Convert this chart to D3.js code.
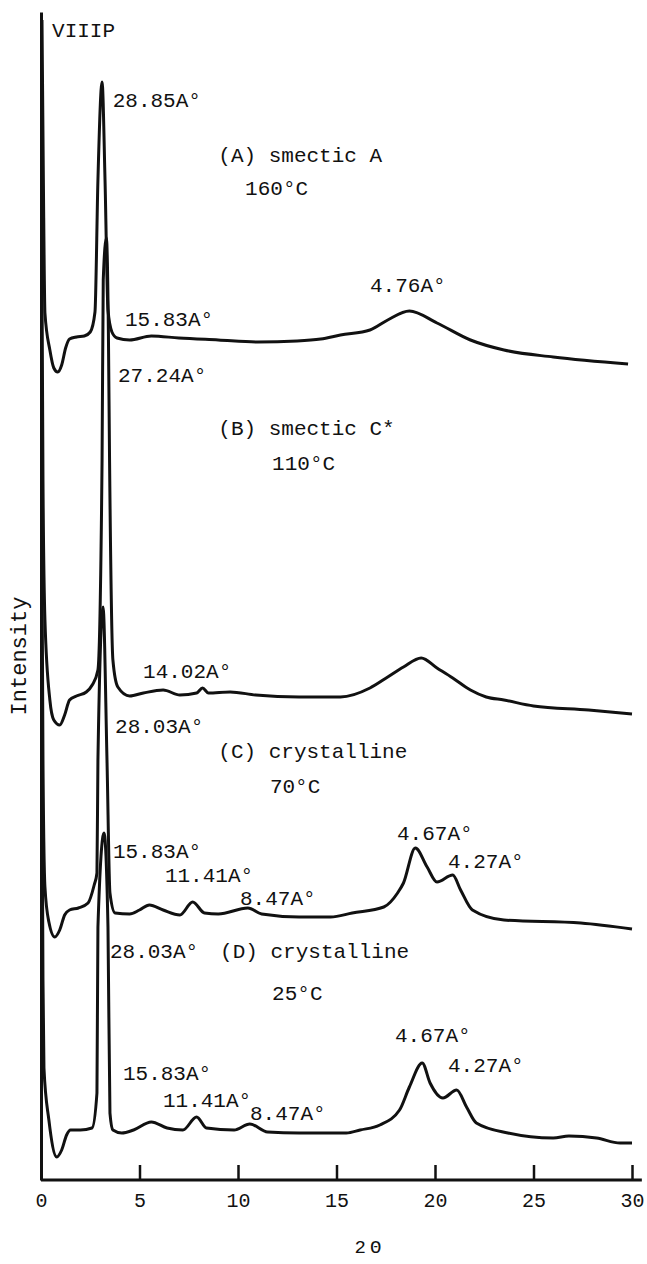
<!DOCTYPE html>
<html>
<head>
<meta charset="utf-8">
<script src="https://cdn.jsdelivr.net/npm/d3@7"></script>
<style>
  body { margin: 0; background: #fff; }
  text { font-family: "Liberation Mono", "DejaVu Sans Mono", monospace; fill: #111; }
</style>
</head>
<body>
<div id="xrd_plot"></div>
<script>
// X-ray diffraction patterns of VIIIP, stacked (intensity includes each trace's offset)

// 2theta / intensity (a.u.) pairs
const smecticA = [
    [0.05, 1160], [0.12, 1000], [0.2, 867], [0.45, 830], [0.65, 812], [0.85, 808],
    [1.05, 815], [1.25, 832], [1.45, 841], [1.8, 843], [2.2, 844], [2.5, 848],
    [2.74, 868], [2.89, 1000], [3.1, 1098], [3.25, 1000], [3.4, 870], [3.6, 848],
    [3.86, 842], [4.5, 840], [5.6, 844], [7, 842], [9, 840], [11, 838], [13, 839],
    [14.2, 841], [15.2, 845], [16.7, 850], [17.6, 860], [18.7, 869], [20.1, 857],
    [21.8, 840], [23.5, 830], [26, 823], [29.8, 816]
];
const smecticC = [
    [0.05, 900], [0.1, 700], [0.2, 560], [0.45, 480], [0.65, 460], [0.95, 455],
    [1.2, 465], [1.45, 480], [1.8, 484], [2.3, 488], [2.6, 495], [2.89, 510],
    [3.1, 720], [3.16, 900], [3.32, 942], [3.42, 850], [3.48, 720], [3.65, 520],
    [3.9, 493], [4.5, 484], [5.2, 487], [6.2, 490], [7.05, 485], [7.9, 487],
    [8.2, 492], [8.5, 487], [9.6, 488], [10.9, 485], [13.1, 483], [15.2, 483],
    [16.7, 492], [17.6, 503], [18.4, 513], [19.3, 522], [20.1, 512], [20.9, 502],
    [21.8, 490], [22.6, 483], [23.5, 480], [25, 474], [27.8, 470], [30, 466]
];
const crystal70 = [
    [0.05, 620], [0.1, 420], [0.2, 293], [0.4, 258], [0.7, 243], [0.95, 250],
    [1.2, 265], [1.45, 270], [1.9, 272], [2.39, 277], [2.7, 295], [2.84, 307],
    [2.89, 420], [3.15, 573], [3.35, 420], [3.5, 287], [3.76, 267], [4.5, 266],
    [5.0, 270], [5.5, 275], [6.2, 270], [7.05, 265], [7.7, 278], [8.3, 267],
    [9.0, 266], [10.5, 272], [11.2, 266], [13.1, 263], [14.7, 263], [15.8, 267],
    [17.4, 273], [18.1, 287], [18.4, 297], [19.0, 332], [19.6, 313], [20.1, 298],
    [20.9, 305], [21.3, 290], [21.9, 270], [23.5, 260], [27.4, 257], [30, 251]
];
const crystal25 = [
    [0.05, 420], [0.1, 200], [0.15, 112], [0.4, 60], [0.8, 23], [1.05, 30],
    [1.3, 45], [1.5, 50], [2.0, 50], [2.59, 52], [2.84, 87], [2.89, 253],
    [3.2, 347], [3.4, 253], [3.5, 67], [3.65, 50], [4.1, 47], [4.7, 50],
    [5.6, 58], [6.4, 52], [7.2, 50], [7.9, 63], [8.4, 52], [9.8, 50],
    [10.6, 56], [11.5, 48], [13.1, 47], [15.5, 47], [16.2, 50], [17.2, 55],
    [18.2, 70], [18.7, 93], [19.35, 117], [19.75, 97], [20.4, 82], [21.1, 90],
    [21.6, 73], [22.1, 57], [23.7, 47], [26, 42], [26.8, 44], [28.2, 42],
    [29.4, 37], [30, 37]
];
const series = [smecticA, smecticC, crystal70, crystal25];

const xTicks = [0, 5, 10, 15, 20, 25, 30];

// annotations: [2theta, intensity, text]
const annotations = [
    [0.56, 1143, "VIIIP"],
    [3.64, 1073, "28.85A°"],
    [9.0, 1018, "(A) smectic A"],
    [10.36, 985, "160°C"],
    [4.26, 854, "15.83A°"],
    [16.7, 888, "4.76A°"],
    [3.91, 798, "27.24A°"],
    [9.0, 745, "(B) smectic C*"],
    [11.73, 710, "110°C"],
    [5.18, 502, "14.02A°"],
    [3.76, 447, "28.03A°"],
    [9.0, 422, "(C) crystalline"],
    [11.62, 387, "70°C"],
    [18.07, 340, "4.67A°"],
    [20.66, 312, "4.27A°"],
    [3.65, 322, "15.83A°"],
    [6.29, 298, "11.41A°"],
    [10.1, 275, "8.47A°"],
    [3.5, 222, "28.03A°"],
    [9.09, 222, "(D) crystalline"],
    [11.73, 180, "25°C"],
    [4.16, 100, "15.83A°"],
    [6.19, 73, "11.41A°"],
    [10.61, 60, "8.47A°"],
    [17.97, 138, "4.67A°"],
    [20.66, 108, "4.27A°"]
];

const canvWidth = 647, canvHeight = 1264;

const svg = d3.select('#xrd_plot')
    .append('svg')
    .attr('width', canvWidth)
    .attr('height', canvHeight);

const xScale = d3.scaleLinear().domain([0, 30]).range([41, 632]);
const yScale = d3.scaleLinear().domain([0, 1168]).range([1180, 12]);

// x axis, ticks pointing up into the plot
const xAxis = svg.append('g')
    .attr('transform', `translate(0, ${yScale(0)})`)
    .call(d3.axisBottom(xScale)
        .tickValues(xTicks)
        .tickFormat(d3.format('d'))
        .tickSizeInner(-15)
        .tickSizeOuter(0)
        .tickPadding(13));
xAxis.select('.domain').remove();
xAxis.selectAll('.tick line').attr('stroke', '#111').attr('stroke-width', 2.5);
xAxis.selectAll('.tick text')
    .style('font-family', '"Liberation Mono", monospace')
    .style('font-size', '20px')
    .attr('fill', '#111');
svg.append('line')
    .attr('x1', xScale(0)).attr('x2', xScale(30.5))
    .attr('y1', yScale(0)).attr('y2', yScale(0))
    .attr('stroke', '#111')
    .attr('stroke-width', 3);

// y axis: plain line, no ticks
svg.append('g')
    .attr('transform', `translate(${xScale(0)}, 0)`)
    .call(d3.axisLeft(yScale).tickValues([]).tickSizeOuter(0))
    .select('.domain')
    .attr('stroke', '#111')
    .attr('stroke-width', 3);

// axis labels
svg.append('text')
    .attr('x', 370)
    .attr('y', 1253)
    .style('font-size', '19px')
    .style('letter-spacing', '4px')
    .attr('text-anchor', 'middle')
    .text('2Θ');

svg.append('text')
    .attr('transform', 'rotate(-90)')
    .attr('x', -656)
    .attr('y', 26)
    .style('font-size', '22px')
    .attr('text-anchor', 'middle')
    .text('Intensity');

// traces
const line = d3.line()
    .x(d => xScale(d[0]))
    .y(d => yScale(d[1]))
    .curve(d3.curveMonotoneX);

svg.append('g')
    .selectAll('path')
    .data(series)
    .enter()
    .append('path')
    .attr('fill', 'none')
    .attr('stroke', '#111')
    .attr('stroke-width', 3)
    .attr('stroke-linejoin', 'round')
    .attr('d', line);

// peak labels and phase notes
svg.append('g')
    .selectAll('text')
    .data(annotations)
    .enter()
    .append('text')
    .attr('x', d => xScale(d[0]))
    .attr('y', d => yScale(d[1]))
    .style('font-size', '21px')
    .text(d => d[2]);
</script>
</body>
</html>
